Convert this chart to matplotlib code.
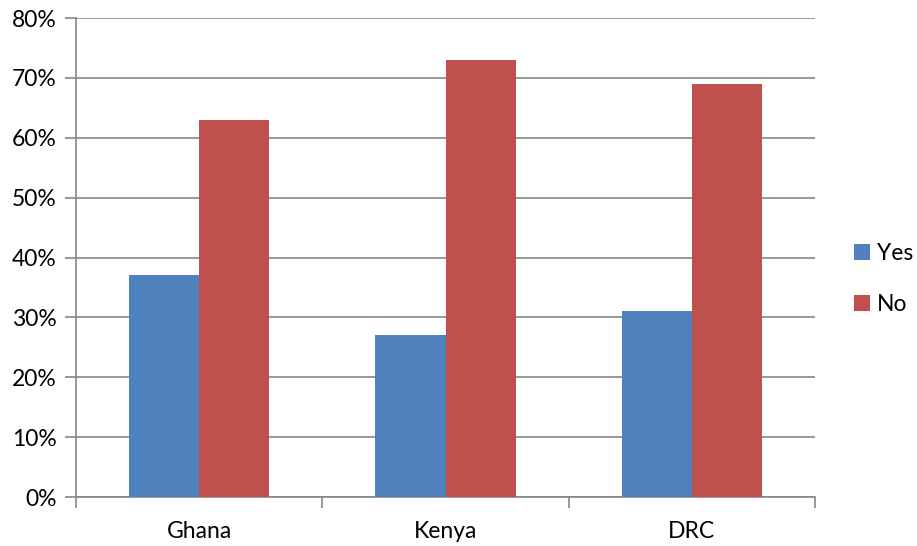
import numpy as np
import matplotlib.pyplot as plt
from matplotlib.ticker import FixedLocator, PercentFormatter

countries = ['Ghana', 'Kenya', 'DRC']
yes_vals = [37, 27, 31]
no_vals = [63, 73, 69]
y_ticks = [0, 10, 20, 30, 40, 50, 60, 70, 80]

plt.rcParams['font.family'] = ['Lato', 'DejaVu Sans']

fig = plt.figure(figsize=(9.17, 5.46), dpi=100)
ax = fig.add_axes([0.0829, 0.0897, 0.8059, 0.8773])

x = np.arange(len(countries))
w = 0.285
grid_col = '#868686'
fs = 16.5

ax.bar(x - w / 2, yes_vals, w, color='#4F81BD', label='Yes', zorder=3)
ax.bar(x + w / 2, no_vals, w, color='#C0504D', label='No', zorder=3)

ax.set_xlim(-0.5, len(countries) - 0.5)
ax.set_ylim(0, 80)
ax.set_yticks(y_ticks)
ax.yaxis.set_major_formatter(PercentFormatter(decimals=0))
ax.yaxis.grid(True, color=grid_col, linewidth=1.2, zorder=0)

# category boundaries get the tick marks, labels sit in between
ax.xaxis.set_major_locator(FixedLocator(np.arange(-0.5, len(countries), 1.0)))
ax.xaxis.set_minor_locator(FixedLocator(x))
ax.set_xticklabels([])
ax.set_xticks(x, minor=True)
ax.set_xticklabels(countries, minor=True)
ax.tick_params(axis='x', which='major', length=8, width=1.2, color=grid_col, direction='out')
ax.tick_params(axis='x', which='minor', length=0, pad=17, labelsize=fs)
ax.tick_params(axis='y', length=8, width=1.2, color=grid_col, pad=6, labelsize=fs)

for side in ['top', 'right']:
    ax.spines[side].set_visible(False)
for side in ['left', 'bottom']:
    ax.spines[side].set_color(grid_col)
    ax.spines[side].set_linewidth(1.2)

ax.legend(loc='center left', bbox_to_anchor=(1.025, 0.455), frameon=False,
          fontsize=fs, handlelength=0.7, handleheight=0.7,
          labelspacing=1.3, handletextpad=0.3)

fig.savefig('out.png', dpi=100)
